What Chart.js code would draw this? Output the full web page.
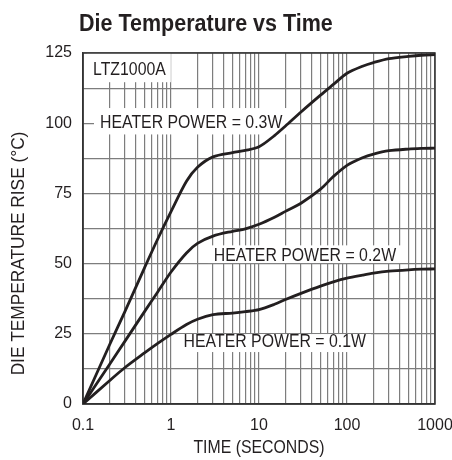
<!DOCTYPE html>
<html><head><meta charset="utf-8">
<script src="https://cdn.jsdelivr.net/npm/chart.js@4/dist/chart.umd.min.js"></script>
<style>html,body{margin:0;padding:0;background:#fff}canvas{display:block}</style>
</head><body>
<canvas id="c" width="452" height="460"></canvas>
<script>
// ---- data ----
const times      = [0.1, 0.2, 0.3, 0.5, 0.7, 1, 1.5, 2, 3, 5, 7, 10, 15, 20, 30, 50, 70, 100, 150, 200, 300, 500, 700, 1000];
const rise03W    = [0, 21, 33, 48.5, 58.5, 68.5, 79.3, 84.3, 88, 89.5, 90.3, 91.6, 95.6, 99, 104, 110, 113.8, 117.8, 120.3, 121.6, 123, 123.8, 124.2, 124.4];
const rise02W    = [0, 14.1, 22.4, 32.9, 39.7, 47, 53.8, 57.2, 59.8, 61.5, 62.4, 64, 66.5, 68.6, 71.5, 76.5, 81, 85, 87.7, 89, 90.2, 90.8, 91, 91.1];
const rise01W    = [0, 8.3, 13, 18.2, 21.5, 24.8, 28.3, 30.2, 31.8, 32.4, 32.9, 33.6, 35.5, 37.2, 39.4, 42, 43.5, 44.8, 45.9, 46.6, 47.3, 47.8, 48, 48.1];
const xTickLabels = [0.1, 1, 10, 100, 1000];
const yTickLabels = [0, 25, 50, 75, 100, 125];
const seriesNames = ['HEATER POWER = 0.3W', 'HEATER POWER = 0.2W', 'HEATER POWER = 0.1W'];
const chartTitle = 'Die Temperature vs Time';
const xTitle = 'TIME (SECONDS)';
const yTitle = 'DIE TEMPERATURE RISE (°C)';

// text annotations (data-space anchors)
const noteTexts = ['LTZ1000A', seriesNames[0], seriesNames[1], seriesNames[2]];
const noteX     = [0.130, 0.156, 3.06, 1.39];
const noteY     = [118.8, 100.2, 52.6, 21.9];
const noteTop   = [125, 105.4, 56.5, 24.9];
const noteBot   = [114.6, 96, 50.2, 18.5];

const INK = '#231f20';
const SANS = "'Liberation Sans', Arial, sans-serif";

function pts(vals){ return times.map((t,i)=>({x:t, y:vals[i]})); }

function condensedText(ctx, text, x, y, sx, rot){
  ctx.save();
  ctx.translate(x, y);
  if (rot) ctx.rotate(rot);
  ctx.scale(sx, 1);
  ctx.fillText(text, 0, 0);
  ctx.restore();
}

const notesPlugin = {
  id:'notes',
  beforeDatasetsDraw(chart){
    const {ctx, scales:{x, y}, chartArea:a} = chart;
    ctx.save();
    ctx.font = '18px ' + SANS;
    ctx.textBaseline = 'middle';
    ctx.textAlign = 'left';
    const sx = 0.88;
    noteTexts.forEach((t,i)=>{
      const px = x.getPixelForValue(noteX[i]);
      const py = y.getPixelForValue(noteY[i]);
      const w = ctx.measureText(t).width * sx;
      const top = y.getPixelForValue(noteTop[i]);
      const bot = y.getPixelForValue(noteBot[i]);
      ctx.fillStyle = '#fff';
      ctx.fillRect(px-6, top, w+11, bot-top);
      ctx.fillStyle = INK;
      condensedText(ctx, t, px, py, sx);
    });
    ctx.strokeStyle = '#333';
    ctx.lineWidth = 1.5;
    ctx.strokeRect(a.left, a.top, a.right-a.left, a.bottom-a.top);
    ctx.restore();
  }
};
const titlePlugin = {
  id:'ttl',
  afterDraw(chart){
    const ctx = chart.ctx, a = chart.chartArea;
    ctx.save();
    ctx.fillStyle = INK;
    ctx.font = 'bold 23.5px ' + SANS;
    ctx.textBaseline = 'alphabetic';
    ctx.textAlign = 'left';
    condensedText(ctx, chartTitle, 79, 30.5, 0.915);
    ctx.font = '18px ' + SANS;
    ctx.textBaseline = 'middle';
    ctx.textAlign = 'center';
    condensedText(ctx, xTitle, (a.left + a.right) / 2, 448, 0.88);
    condensedText(ctx, yTitle, 19.5, 253.5, 0.96, -Math.PI / 2);
    ctx.restore();
  }
};

const lineStyle = {borderColor: INK, borderWidth: 2.8, pointRadius: 0, fill: false, tension: 0.3};

new Chart(document.getElementById('c'), {
  type: 'line',
  data: { datasets: [
    Object.assign({label: seriesNames[0], data: pts(rise03W)}, lineStyle),
    Object.assign({label: seriesNames[1], data: pts(rise02W)}, lineStyle),
    Object.assign({label: seriesNames[2], data: pts(rise01W)}, lineStyle)
  ]},
  options: {
    responsive: false, animation: false, devicePixelRatio: 1,
    layout: {padding: {top: 53, right: 17, left: 0, bottom: 0}},
    plugins: {legend: {display: false}, tooltip: {enabled: false}, title: {display: false}},
    scales: {
      x: {
        type: 'logarithmic', min: xTickLabels[0], max: xTickLabels[xTickLabels.length-1],
        afterBuildTicks(s){
          const t = [];
          xTickLabels.forEach((d,i)=>{
            if (i === xTickLabels.length-1) { t.push({value: d}); return; }
            for (let k=1;k<=9;k++) t.push({value: d*k});
          });
          s.ticks = t;
        },
        afterFit(s){ s.height = 56; s.paddingLeft = 0; s.paddingRight = 0; },
        grid: {color: '#7d7d7d', lineWidth: 1.2, drawTicks: false},
        border: {color: '#333', width: 1.5},
        ticks: {
          autoSkip: false, maxRotation: 0, padding: 12, color: INK,
          font: {family: SANS, size: 16},
          callback(v){ const i = xTickLabels.findIndex(d=>Math.abs(d-v)/d < 1e-6); return i>=0 ? String(xTickLabels[i]) : ''; }
        },
        title: {display: false}
      },
      y: {
        min: yTickLabels[0], max: yTickLabels[yTickLabels.length-1],
        afterFit(s){ s.width = 83; s.paddingTop = 0; s.paddingBottom = 0; },
        grid: {color: '#7d7d7d', lineWidth: 1.2, drawTicks: false},
        border: {color: '#333', width: 1.5},
        ticks: {
          stepSize: 12.5, padding: 11, color: INK,
          font: {family: SANS, size: 16},
          callback(v){ return yTickLabels.includes(v) ? String(v) : ''; }
        },
        title: {display: false}
      }
    }
  },
  plugins: [notesPlugin, titlePlugin]
});
</script>
</body></html>
